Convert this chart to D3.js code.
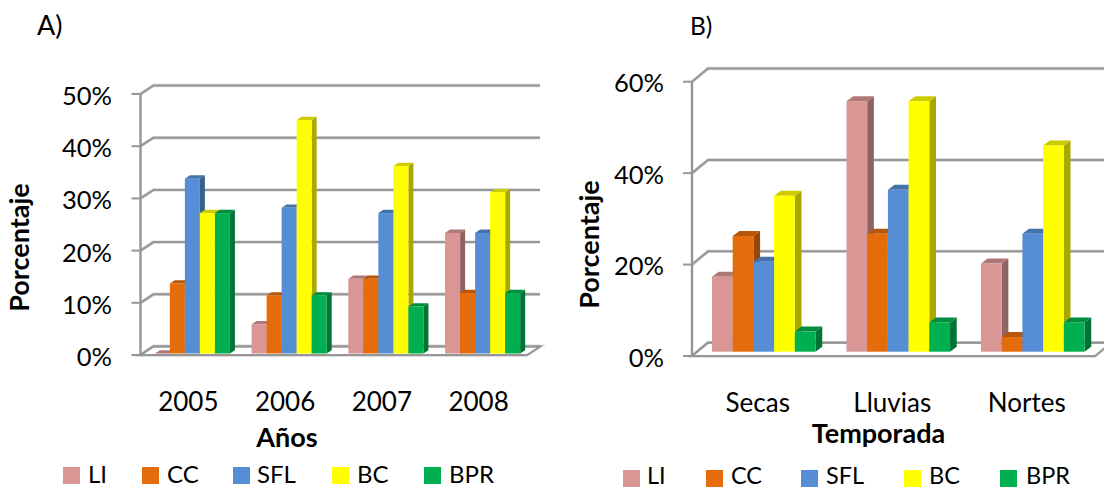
<!DOCTYPE html>
<html><head><meta charset="utf-8"><style>
html,body{margin:0;padding:0;background:#fff}
text{font-family:Lato,sans-serif;fill:#000}
</style><script src="https://cdn.jsdelivr.net/npm/d3@7/dist/d3.min.js"></script></head><body>
<svg id="c" width="1104" height="489" style="display:block"></svg>
<script>
const seriesNames=["LI","CC","SFL","BC","BPR"];
const seriesColors=["#D99694","#E46C0A","#558ED5","#FFFF00","#00B050"];
const yearsA=["2005","2006","2007","2008"];
const valuesLI_A=[0,5.6,14.3,23.1];
const valuesCC_A=[13.4,11.1,14.3,11.6];
const valuesSFL_A=[33.5,27.9,26.9,23.1];
const valuesBC_A=[26.9,44.7,35.9,30.9];
const valuesBPR_A=[26.9,11.1,9.0,11.6];
const ticksA=[0,10,20,30,40,50];
const seasonsB=["Secas","Lluvias","Nortes"];
const valuesLI_B=[16.4,54.8,19.3];
const valuesCC_B=[25.3,25.8,3.2];
const valuesSFL_B=[19.7,35.4,25.8];
const valuesBC_B=[34.1,54.8,45.1];
const valuesBPR_B=[4.4,6.4,6.4];
const ticksB=[0,20,40,60];

const svg=d3.select("#c");
function panel(o){
  const g=svg.append("g");
  const yFront=d3.scaleLinear().domain([0,o.max]).range([o.y0,o.yTop]);
  const yBar=d3.scaleLinear().domain([0,o.max]).range([o.barBase,o.barBase-(o.y0-o.yTop)]);
  const x0=d3.scaleBand().domain(o.cats).range(o.bandRange).paddingInner(o.pad).paddingOuter(o.pad/2);
  const x1=d3.scaleBand().domain(seriesNames).range([0,x0.bandwidth()]);
  const grid="#969696";
  const gridPath=t=>`M${o.ax},${yFront(t)}L${o.ax+o.dx},${yFront(t)-o.dy}L${o.right+o.dx},${yFront(t)-o.dy}`;
  const floorPath=`M${o.ax},${o.y0}L${o.ax+o.dx},${o.y0-o.dy}L${o.right+o.dx},${o.y0-o.dy}L${o.right},${o.y0}Z`;
  // soft shadow under the lines
  g.append("path").attr("d",floorPath).attr("fill","#fff").attr("stroke","#d4d4d4").attr("stroke-width",3.4);
  g.selectAll(".gs").data(o.ticks).join("path").attr("d",gridPath).attr("fill","none").attr("stroke","#d4d4d4").attr("stroke-width",3.4);
  g.append("path").attr("d",floorPath).attr("fill","#fff").attr("stroke",grid).attr("stroke-width",2);
  g.selectAll(".g").data(o.ticks).join("path").attr("d",gridPath).attr("fill","none").attr("stroke",grid).attr("stroke-width",2);
  g.append("line").attr("x1",o.ax).attr("x2",o.ax).attr("y1",yFront(o.max)).attr("y2",o.y0+1).attr("stroke",grid).attr("stroke-width",2.4);
  g.selectAll(".t").data(o.ticks).join("line").attr("x1",o.ax-9).attr("x2",o.ax).attr("y1",t=>yFront(t)).attr("y2",t=>yFront(t)).attr("stroke",grid).attr("stroke-width",2);
  // bars
  o.cats.forEach((c,ci)=>{
    seriesNames.forEach((s,si)=>{
      const v=o.vals[si][ci], x=x0(c)+x1(s), w=x1.bandwidth(), y=yBar(v), b=o.barBase;
      const col=d3.color(seriesColors[si]);
      const side=d3.rgb(col.r*.66,col.g*.66,col.b*.66), top=d3.rgb(col.r*.8,col.g*.8,col.b*.8);
      g.append("path").attr("d",`M${x+w},${y}L${x+w+o.bx},${y-o.by}L${x+w+o.bx},${b-o.by}L${x+w},${b}Z`).attr("fill",side);
      g.append("path").attr("d",`M${x},${y}L${x+o.bx},${y-o.by}L${x+w+o.bx},${y-o.by}L${x+w},${y}Z`).attr("fill",top);
      g.append("rect").attr("x",x).attr("y",y).attr("width",w).attr("height",Math.max(0,b-y)).attr("fill",seriesColors[si]);
    });
  });
  // text
  g.selectAll(".l").data(o.ticks).join("text").attr("x",o.labelX).attr("y",t=>yFront(t)+o.labelDy).attr("text-anchor","end").attr("font-size",o.fs).text(t=>t+"%");
  g.selectAll(".c").data(o.cats).join("text").attr("x",c=>x0(c)+x0.bandwidth()/2+o.catDx).attr("y",o.catY).attr("text-anchor","middle").attr("font-size",o.catFs).text(c=>c);
  g.append("text").attr("x",o.titleX).attr("y",o.titleY).attr("text-anchor","middle").attr("font-size",o.titleFs).attr("font-weight","bold").text(o.xTitle);
  g.append("text").attr("transform",`translate(${o.ylX},${o.ylY}) rotate(-90)`).attr("text-anchor","middle").attr("font-size",o.titleFs).attr("font-weight","bold").text("Porcentaje");
  g.append("text").attr("x",o.nameX).attr("y",o.nameY).attr("font-size",o.nameFs).text(o.name);
  seriesNames.forEach((s,i)=>{
    g.append("rect").attr("x",o.legSq[i]).attr("y",o.legY).attr("width",17).attr("height",17).attr("fill",seriesColors[i]);
    g.append("text").attr("x",o.legTx[i]).attr("y",o.legBase).attr("font-size",o.legFs).text(s);
  });
}
panel({cats:yearsA,vals:[valuesLI_A,valuesCC_A,valuesSFL_A,valuesBC_A,valuesBPR_A],ticks:ticksA,max:50,
  y0:355,yTop:94,barBase:353.5,ax:140.5,right:527,dx:13,dy:8.5,bx:5,by:3.3,bandRange:[144,531],pad:.224,
  labelX:112,labelDy:11,fs:25.5,catY:411,catFs:26,catDx:-4,xTitle:"Años",titleX:287,titleY:447,titleFs:27,ylX:29,ylY:247.5,
  name:"A)",nameX:37,nameY:35,nameFs:27,legSq:[63,142,233,332,424],legTx:[88,167,257,357,449],legY:467,legBase:483,legFs:24});
panel({cats:seasonsB,vals:[valuesLI_B,valuesCC_B,valuesSFL_B,valuesBC_B,valuesBPR_B],ticks:ticksB,max:60,
  y0:356,yTop:81.7,barBase:351.7,ax:692,right:1095,dx:16,dy:13.2,bx:6.7,by:5,bandRange:[696.5,1100],pad:.23,
  labelX:664,labelDy:10.5,fs:25.5,catY:412,catFs:26,catDx:-6,xTitle:"Temporada",titleX:878.5,titleY:443,titleFs:27,ylX:599,ylY:244.5,
  name:"B)",nameX:690,nameY:35,nameFs:24.5,legSq:[623,706,801,904,1000],legTx:[647,731,826,929,1026],legY:470,legBase:484,legFs:23.5});
</script></body></html>
